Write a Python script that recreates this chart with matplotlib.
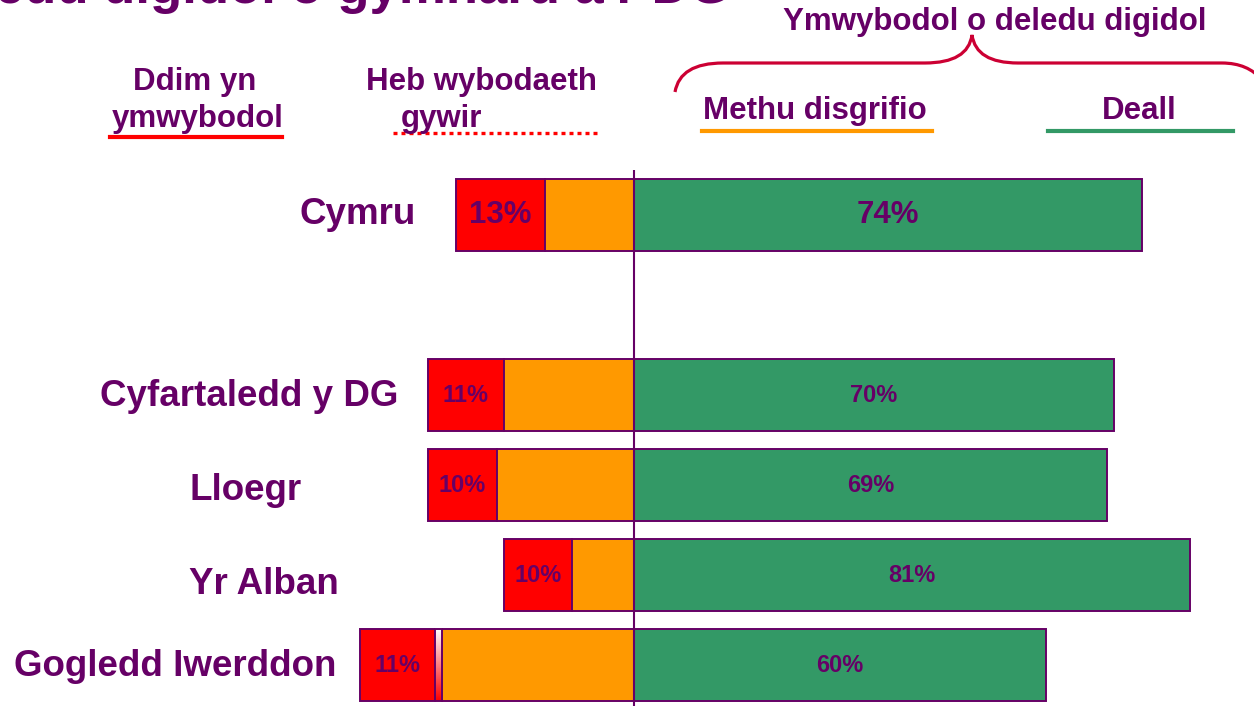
import numpy as np
import matplotlib.pyplot as plt
from matplotlib.path import Path
from matplotlib.patches import PathPatch
from matplotlib.lines import Line2D
from matplotlib.colors import LinearSegmentedColormap
import matplotlib.transforms as mtransforms

# data (percent)
regions = ["Cymru", "Cyfartaledd y DG", "Lloegr", "Yr Alban", "Gogledd Iwerddon"]
rows = [0, 2, 3, 4, 5]
ddim = [13, 11, 10, 10, 11]      # Ddim yn ymwybodol
heb = [0, 0, 0, 0, 1]            # Heb wybodaeth gywir
methu = [13, 19, 20, 9, 28]      # Methu disgrifio
deall = [74, 70, 69, 81, 60]     # Deall

purple = "#660066"
red = "#FF0000"
orange = "#FF9900"
green = "#339966"
brace_col = "#CC0033"
font = "Liberation Sans"

W, H = 1254, 706
fig = plt.figure(figsize=(W/100, H/100), dpi=100)
ax = fig.add_axes([0, 0, 1, 1])

# pixel coords (origin top-left) -> figure
pix = mtransforms.Affine2D().scale(1.0/W, -1.0/H).translate(0, 1) + fig.transFigure

ddim = np.array(ddim, dtype=float)
heb = np.array(heb, dtype=float)
methu = np.array(methu, dtype=float)
deall = np.array(deall, dtype=float)
rows = np.array(rows, dtype=float)

h = 0.81
ek = dict(edgecolor=purple, linewidth=1.4)

ax.barh(rows, ddim, left=-(ddim+heb+methu), height=h, color=red, **ek)
ax.barh(rows, methu, left=-methu, height=h, color=orange, **ek)
ax.barh(rows, deall, left=0, height=h, color=green, **ek)

# gradient segment for "heb wybodaeth gywir"
cmap = LinearSegmentedColormap.from_list("wr", ["#FFFFFF", "#FF8080", red])
grad = np.linspace(0, 1, 60).reshape(-1, 1)
for y, hv, m in zip(rows, heb, methu):
    if hv > 0:
        ax.imshow(grad, cmap=cmap, aspect="auto", origin="upper",
                  extent=(-(m+hv), -m, y+h/2, y-h/2), zorder=1.5)
        ax.barh(y, hv, left=-(m+hv), height=h, color="none", zorder=2, **ek)

ax.vlines(0, rows[0]-0.5, 6, color=purple, linewidth=1.5, zorder=3)

# percentage labels
for i, y in enumerate(rows):
    fs = 22.5 if i == 0 else 17
    xr = -(ddim[i]+heb[i]+methu[i]) + ddim[i]/2
    ax.text(xr, y, "%d%%" % ddim[i], ha="center", va="center", color=purple,
            fontsize=fs, fontweight="bold", family=font, zorder=4)
    ax.text(deall[i]/2, y, "%d%%" % deall[i], ha="center", va="center", color=purple,
            fontsize=fs, fontweight="bold", family=font, zorder=4)

px_per = 6.86
ax.set_xlim(-634/px_per, (W-634)/px_per)
ax.set_ylim((H-215)/90.0, -215/90.0)
ax.axis("off")

# region labels
label_pos = [(358, 215), (249, 397), (246, 490), (264, 584), (175, 667)]
for name, (x, y) in zip(regions, label_pos):
    fig.text(x, y, name, transform=pix, ha="center", va="center", color=purple,
             fontsize=26.5, fontweight="bold", family=font)

# title (cut off at top of the slide)
fig.text(730, 3, "Ymwybyddiaeth o deledu digidol o gymharu â'r DG", transform=pix,
         ha="right", va="baseline", color=purple, fontsize=38, fontweight="bold", family=font)

# headers
hk = dict(transform=pix, ha="center", va="center", color=purple,
          fontsize=22.5, fontweight="bold", family=font)
fig.text(195, 82, "Ddim yn", **hk)
fig.text(198, 119, "ymwybodol", **hk)
fig.text(482, 82, "Heb wybodaeth", **hk)
fig.text(441, 119, "gywir", **hk)
fig.text(815, 111, "Methu disgrifio", **hk)
fig.text(1139, 111, "Deall", **hk)
fig.text(995, 22, "Ymwybodol o deledu digidol", **hk)

# underlines
fig.add_artist(Line2D([110, 282], [137, 137], transform=pix, color=red, lw=3))
fig.add_artist(Line2D([393, 597], [133, 133], transform=pix, color=red, lw=2.4,
                      linestyle=(0, (1.2, 1.2)), solid_capstyle="butt", dash_capstyle="butt"))
fig.add_artist(Line2D([702, 932], [131, 131], transform=pix, color=orange, lw=3))
fig.add_artist(Line2D([1048, 1233], [131, 131], transform=pix, color=green, lw=3))

# curly brace
verts = [(675, 92), (680, 63), (723, 63),
         (925, 63),
         (968, 63), (972, 35),
         (976, 63), (1018, 63),
         (1222, 63),
         (1248, 63), (1262, 80)]
codes = [Path.MOVETO, Path.CURVE3, Path.CURVE3,
         Path.LINETO,
         Path.CURVE3, Path.CURVE3,
         Path.CURVE3, Path.CURVE3,
         Path.LINETO,
         Path.CURVE3, Path.CURVE3]
fig.add_artist(PathPatch(Path(verts, codes), transform=pix, facecolor="none",
                         edgecolor=brace_col, lw=2.3))

plt.savefig("out.png", dpi=100)
